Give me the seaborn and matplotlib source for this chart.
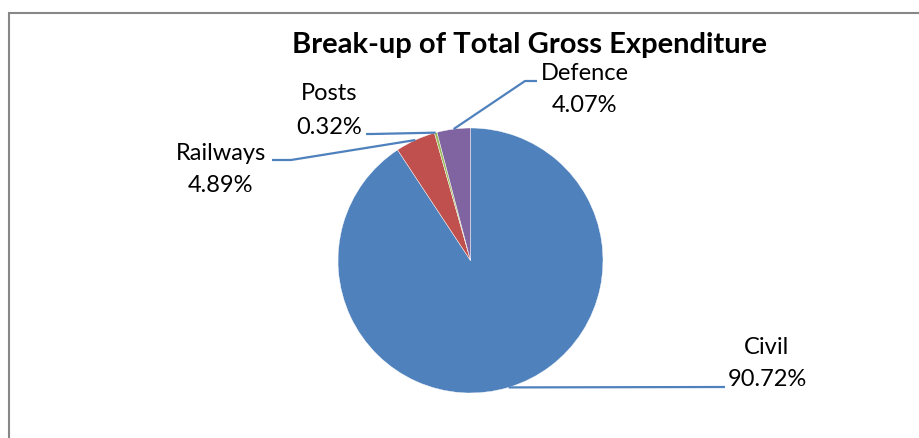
import numpy as np
import matplotlib
matplotlib.use("Agg")
import matplotlib.pyplot as plt
import seaborn as sns
from matplotlib.patches import Rectangle

categories = ["Civil", "Railways", "Posts", "Defence"]
values = [90.72, 4.89, 0.32, 4.07]
pct_labels = ["90.72%", "4.89%", "0.32%", "4.07%"]
colors = ["#4F81BD", "#C0504D", "#9BBB59", "#8064A2"]
title = "Break-up of Total Gross Expenditure"

sns.set_theme(style="white")
plt.rcParams['font.family'] = ['Lato', 'DejaVu Sans']

W, H = 920, 438
fig = plt.figure(figsize=(W / 100, H / 100), dpi=100)
fig.patch.set_facecolor("white")
ax = fig.add_axes([0, 0, 1, 1])
ax.set_xlim(0, W)
ax.set_ylim(0, H)
ax.set_aspect("equal")
ax.axis("off")

def Y(yp):
    return H - yp

# outer chart border
ax.add_patch(Rectangle((9, Y(450)), 940, 450 - 13, fill=False,
                       edgecolor="#878787", linewidth=1.5, zorder=0))

cx, cy, r = 470.5, 260.5, 132.5
wedges, _ = ax.pie(values, colors=colors, startangle=90, counterclock=False,
                   center=(cx, Y(cy)), radius=r, frame=True,
                   wedgeprops=dict(linewidth=0.3, edgecolor="white"))
ax.set_xlim(0, W)
ax.set_ylim(0, H)
ax.axis("off")

# leader line paths (pixel coords after the wedge edge point)
paths = {
    "Civil": [(725, 387)],
    "Railways": [(291, 160), (272, 160)],
    "Posts": [(372, 134), (366, 134)],
    "Defence": [(525, 81), (537, 81)],
}
label_pos = {
    "Civil": (767, 347, 380),
    "Railways": (221, 153, 186),
    "Posts": (329, 94, 127),
    "Defence": (585, 73, 105),
}
line_col = "#4F81BD"
for w, cat, pl in zip(wedges, categories, pct_labels):
    ang = np.deg2rad((w.theta1 + w.theta2) / 2)
    x0 = cx + r * np.cos(ang)
    y0 = Y(cy) + r * np.sin(ang)
    xs = [x0] + [p[0] for p in paths[cat]]
    ys = [y0] + [Y(p[1]) for p in paths[cat]]
    ax.plot(xs, ys, color=line_col, linewidth=1.6, solid_capstyle="butt", zorder=3)
    lx, ly1, ly2 = label_pos[cat]
    ax.text(lx, Y(ly1), cat, ha="center", va="center", fontsize=17, color="black")
    ax.text(lx, Y(ly2), pl, ha="center", va="center", fontsize=17, color="black")

ax.text(530, Y(45), title, ha="center", va="center", fontsize=21,
        fontweight="bold", color="black")

fig.savefig("out.png", dpi=100, facecolor="white")
